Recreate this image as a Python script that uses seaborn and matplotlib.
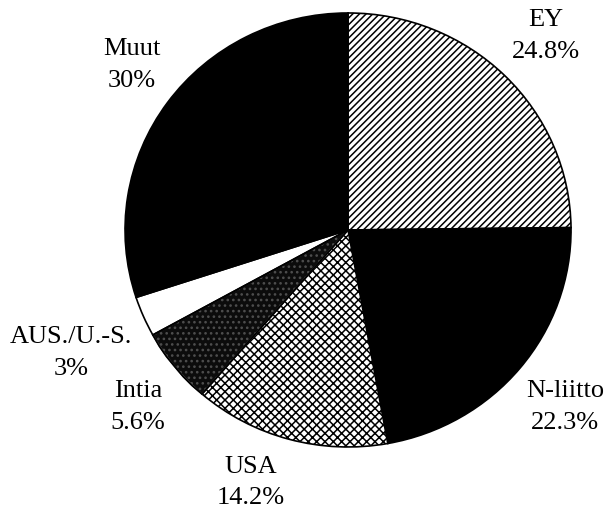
import matplotlib
matplotlib.use("Agg")
import matplotlib.pyplot as plt
import seaborn as sns

# --- Data ---
labels = ["EY", "N-liitto", "USA", "Intia", "AUS./U.-S.", "Muut"]
shares = [24.8, 22.3, 14.2, 5.6, 3.0, 30.0]
share_text = ["24.8%", "22.3%", "14.2%", "5.6%", "3%", "30%"]

# --- Style ---
face_colors = ["white", "black", "white", "#0c0c0c", "white", "black"]
hatches = ["/////", None, "xxxx", "...", None, None]
hatch_colors = ["black", "black", "black", "#4e4e4e", "black", "black"]
# label centres in pie data units (radius = 1)
label_pos = [(0.888, 0.894), (0.973, -0.816), (-0.435, -1.165),
             (-0.942, -0.816), (-1.242, -0.567), (-0.969, 0.760)]

sns.set_theme(style="white")
plt.rcParams["font.family"] = ["Liberation Serif", "DejaVu Serif"]
plt.rcParams["hatch.linewidth"] = 1.1

fig = plt.figure(figsize=(6.06, 5.13), dpi=100)
# the scanned pie is slightly flatter than a circle
ax = fig.add_axes([0.2063, 0.1287, 0.736, 0.846])

wedges, _ = ax.pie(shares, startangle=90, counterclock=False, radius=1.0,
                   wedgeprops=dict(linewidth=1.2, edgecolor="black"))

for w, fc, h, hc in zip(wedges, face_colors, hatches, hatch_colors):
    w.set_facecolor(fc)
    if h:
        w.set_hatch(h)
        w.set_edgecolor(hc)
    if hc != "black":
        # outline drawn separately so the hatch can keep its own colour
        outline = plt.Polygon(w.get_path().vertices, closed=True, fill=False,
                              edgecolor="black", linewidth=1.2)
        ax.add_patch(outline)

for name, txt, (x, y) in zip(labels, share_text, label_pos):
    ax.text(x, y, f"{name}\n{txt}", ha="center", va="center",
            fontsize=19, linespacing=1.55, color="black", clip_on=False)

ax.set_xlim(-1, 1)
ax.set_ylim(-1, 1)
ax.set_aspect("auto")
ax.axis("off")

fig.savefig("out.png", dpi=100)
